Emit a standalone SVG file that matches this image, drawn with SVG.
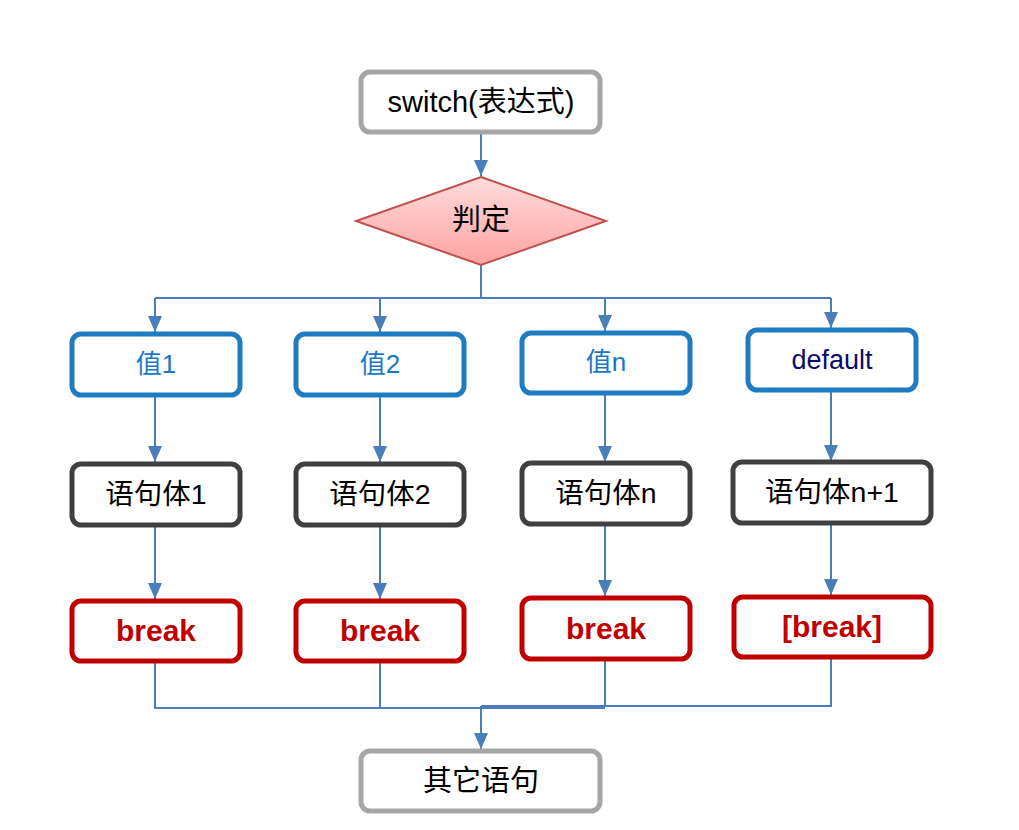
<svg xmlns="http://www.w3.org/2000/svg" width="1019" height="830" viewBox="0 0 1019 830">
<style>
text{font-family:"Liberation Sans","Noto Sans CJK SC",sans-serif;text-anchor:middle;dominant-baseline:central}
.gray{fill:#fff;stroke:#a6a6a6;stroke-width:5}
.blue{fill:#fff;stroke:#1f7bc2;stroke-width:5}
.dark{fill:#fff;stroke:#404040;stroke-width:5}
.red{fill:#fff;stroke:#c00000;stroke-width:5}
.t{font-size:29px;fill:#000}
.s{font-size:28.5px;fill:#000}
.v{font-size:26px;fill:#1a78c2}
.d{font-size:27px;fill:#0b0b6b}
.b{font-size:30px;font-weight:bold;fill:#c00000}
.c{fill:none;stroke:#4a7ebb;stroke-width:2}
</style>
<defs>
<marker id="ah" markerUnits="userSpaceOnUse" markerWidth="16" markerHeight="14" refX="16" refY="7" orient="auto">
<path d="M0,0 L16,7 L0,14 z" fill="#4a7ebb"/>
</marker>
<linearGradient id="pink" x1="0" y1="0" x2="0" y2="1">
<stop offset="0" stop-color="#ffdcdc"/>
<stop offset="1" stop-color="#ffa2a2"/>
</linearGradient>
</defs>
<rect width="1019" height="830" fill="#fff"/>
<g id="connectors">
<path class="c" d="M481 132 V176" marker-end="url(#ah)"/>
<path class="c" d="M481 265 V298"/>
<path class="c" d="M155 298 H831"/>
<path class="c" d="M155 298 V332" marker-end="url(#ah)"/>
<path class="c" d="M380 298 V332" marker-end="url(#ah)"/>
<path class="c" d="M605 298 V331" marker-end="url(#ah)"/>
<path class="c" d="M831 298 V328" marker-end="url(#ah)"/>
<path class="c" d="M155 396 V462" marker-end="url(#ah)"/>
<path class="c" d="M380 396 V462" marker-end="url(#ah)"/>
<path class="c" d="M605 393 V462" marker-end="url(#ah)"/>
<path class="c" d="M831 391 V461" marker-end="url(#ah)"/>
<path class="c" d="M155 526 V599" marker-end="url(#ah)"/>
<path class="c" d="M380 526 V599" marker-end="url(#ah)"/>
<path class="c" d="M605 525 V596" marker-end="url(#ah)"/>
<path class="c" d="M831 523 V595" marker-end="url(#ah)"/>
<path class="c" d="M155 662 V708 H605"/>
<path class="c" d="M380 662 V708"/>
<path class="c" d="M605 660 V706"/>
<path class="c" d="M831 658 V706 H481"/>
<path class="c" d="M481 706 V749" marker-end="url(#ah)"/>
</g>
<g id="switch"><rect class="gray" x="361" y="72" width="239" height="60" rx="9"/><text class="t" x="481" y="102">switch(表达式)</text></g>
<g id="judge"><polygon points="481,177 606,221 481,265 356,221" fill="url(#pink)" stroke="#c0504d" stroke-width="2"/><text class="t" x="481" y="220">判定</text></g>
<g id="val1"><rect class="blue" x="72" y="334" width="168" height="61" rx="9"/><text class="v" x="156" y="364">值1</text></g>
<g id="val2"><rect class="blue" x="296" y="334" width="168" height="61" rx="9"/><text class="v" x="380" y="364">值2</text></g>
<g id="valn"><rect class="blue" x="522" y="333" width="168" height="60" rx="9"/><text class="v" x="606" y="362">值n</text></g>
<g id="default"><rect class="blue" x="748" y="330" width="168" height="60" rx="9"/><text class="d" x="832" y="360">default</text></g>
<g id="stmt1"><rect class="dark" x="72" y="464" width="168" height="61" rx="9"/><text class="s" x="156" y="494">语句体1</text></g>
<g id="stmt2"><rect class="dark" x="296" y="464" width="168" height="61" rx="9"/><text class="s" x="380" y="494">语句体2</text></g>
<g id="stmtn"><rect class="dark" x="522" y="463" width="168" height="61" rx="9"/><text class="s" x="606" y="493">语句体n</text></g>
<g id="stmtn1"><rect class="dark" x="733" y="462" width="198" height="61" rx="9"/><text class="s" x="832" y="492">语句体n+1</text></g>
<g id="break1"><rect class="red" x="72" y="601" width="168" height="60" rx="9"/><text class="b" x="156" y="630">break</text></g>
<g id="break2"><rect class="red" x="296" y="601" width="168" height="60" rx="9"/><text class="b" x="380" y="630">break</text></g>
<g id="breakn"><rect class="red" x="522" y="598" width="168" height="61" rx="9"/><text class="b" x="606" y="628">break</text></g>
<g id="breakopt"><rect class="red" x="734" y="597" width="197" height="60" rx="9"/><text class="b" x="832" y="626">[break]</text></g>
<g id="other"><rect class="gray" x="361" y="751" width="239" height="60" rx="9"/><text class="t" x="481" y="781">其它语句</text></g>
</svg>
